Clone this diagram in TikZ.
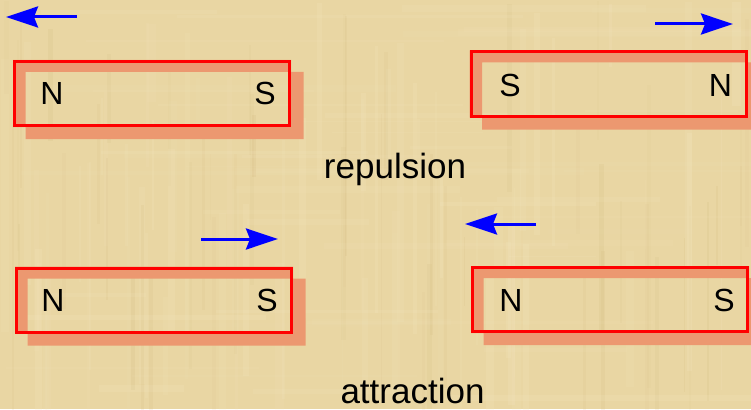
\documentclass[tikz,border=0pt]{standalone}
\usepackage{fontspec}
\setmainfont{Liberation Sans}
\usetikzlibrary{arrows.meta,calc}
\pgfdeclarelayer{paper}
\pgfdeclarelayer{shade}
\pgfsetlayers{paper,shade,main}
\definecolor{paperc}{RGB}{233,214,163}
\definecolor{paperlight}{RGB}{246,233,195}
\definecolor{paperdark}{RGB}{205,180,120}
\definecolor{shadowc}{RGB}{236,152,112}
\definecolor{magred}{RGB}{255,0,0}
\definecolor{arrblue}{RGB}{0,0,255}
\tikzset{
  magnet/.style={draw=magred, line width=3pt, minimum width=275pt, minimum height=64pt, inner sep=0pt},
  pole/.style={font=\fontsize{32}{38}\selectfont, anchor=base, inner sep=0pt},
  caption/.style={font=\fontsize{35}{42}\selectfont, anchor=base, inner sep=0pt},
  force/.style={draw=arrblue, line width=3pt, -{Stealth[length=32pt,width=21pt,inset=4pt]}},
  shadowfill/.style={fill=shadowc, even odd rule}
}
\begin{document}
\begin{tikzpicture}[x=1pt,y=-1pt]
\useasboundingbox (0,0) rectangle (751,409);
\begin{pgfonlayer}{paper}
  \fill[paperc] (0,0) rectangle (751,409);
  \pgfmathsetseed{11}
  \foreach \i in {1,...,70} {
    \pgfmathsetmacro\xx{rnd*751}
    \pgfmathsetmacro\ww{1+rnd*8}
    \pgfmathsetmacro\op{0.06+rnd*0.14}
    \pgfmathsetmacro\yy{rnd*300}
    \pgfmathsetmacro\hh{60+rnd*250}
    \fill[paperlight, opacity=\op] (\xx,\yy) rectangle ++(\ww,\hh);
  }
  \foreach \i in {1,...,50} {
    \pgfmathsetmacro\xx{rnd*751}
    \pgfmathsetmacro\ww{1+rnd*4}
    \pgfmathsetmacro\op{0.05+rnd*0.10}
    \pgfmathsetmacro\yy{rnd*300}
    \pgfmathsetmacro\hh{60+rnd*250}
    \fill[paperdark, opacity=\op] (\xx,\yy) rectangle ++(\ww,\hh);
  }
  \foreach \i in {1,...,50} {
    \pgfmathsetmacro\yy{rnd*409}
    \pgfmathsetmacro\hh{1+rnd*6}
    \pgfmathsetmacro\op{0.05+rnd*0.12}
    \pgfmathsetmacro\xx{rnd*600}
    \pgfmathsetmacro\ww{80+rnd*300}
    \fill[paperlight, opacity=\op] (\xx,\yy) rectangle ++(\ww,\hh);
  }
\end{pgfonlayer}

% magnets
\node[magnet] (m1) at (152,93.5) {};
\node[magnet] (m2) at (608.5,84) {};
\node[magnet] (m3) at (154,300) {};
\node[magnet] (m4) at (610,299.5) {};

\begin{pgfonlayer}{shade}
  \foreach \m in {m1,m2,m3,m4} {
    \fill[shadowfill] ($(\m.south west)+(12.5,12)$) rectangle ($(\m.north east)+(12.5,12)$)
                      (\m.south west) rectangle (\m.north east);
  }
\end{pgfonlayer}

% poles
\node[pole] (m1n) at (52,104) {N};
\node[pole] (m1s) at (265,104) {S};
\node[pole] (m2s) at (510,96) {S};
\node[pole] (m2n) at (720.5,96) {N};
\node[pole] (m3n) at (53,311) {N};
\node[pole] (m3s) at (267,311) {S};
\node[pole] (m4n) at (511,311) {N};
\node[pole] (m4s) at (724,311) {S};

% captions
\node[caption] (rep) at (395,178) {repulsion};
\node[caption] (att) at (412.5,403) {attraction};

% force arrows
\coordinate (a1s) at (77,17);   \coordinate (a1e) at (6,17);
\coordinate (a2s) at (655,24);  \coordinate (a2e) at (733,24);
\coordinate (a3s) at (201,239); \coordinate (a3e) at (278,239);
\coordinate (a4s) at (536,224); \coordinate (a4e) at (465,224);
\draw[force] (a1s) -- (a1e);
\draw[force] (a2s) -- (a2e);
\draw[force] (a3s) -- (a3e);
\draw[force] (a4s) -- (a4e);
\end{tikzpicture}
\end{document}
